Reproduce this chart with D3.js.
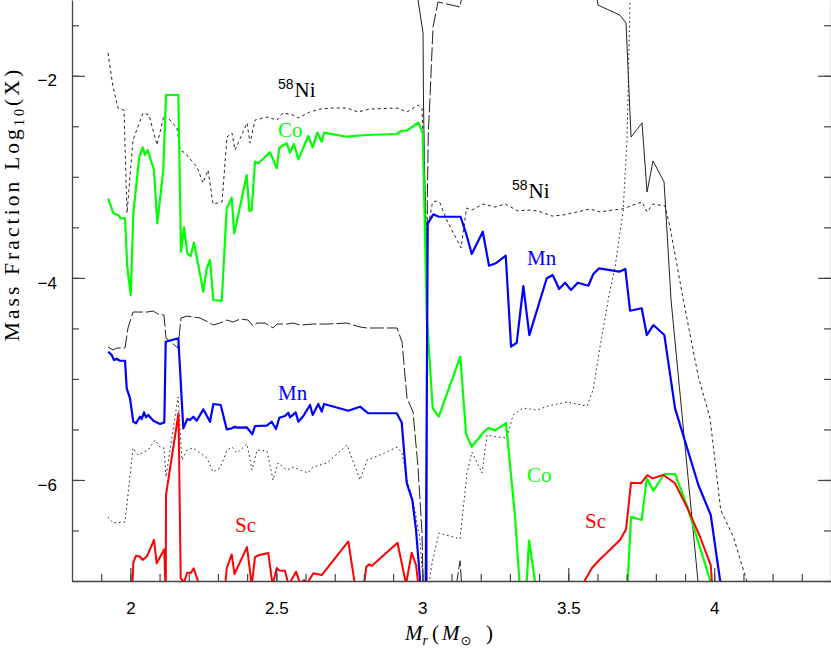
<!DOCTYPE html>
<html><head><meta charset="utf-8">
<script src="https://cdn.jsdelivr.net/npm/d3@7"></script>
<style>body{margin:0;background:#fff}svg{display:block}</style>
</head><body>
<svg id="chart" width="831" height="652"></svg>
<script>
// ---------------- data ----------------
const xDomain = [1.8, 4.4];
const yDomain = [-7, -1.25];
const xMajorTicks = [2, 2.5, 3, 3.5, 4];
const xMinorTicks = [1.9,2.0,2.1,2.2,2.3,2.4,2.5,2.6,2.7,2.8,2.9,3.0,3.1,3.2,3.3,3.4,3.5,3.6,3.7,3.8,3.9,4.0,4.1,4.2,4.3];
const yMajorTicks = [-6, -4, -2];
const yMinorTicks = [-7,-6.5,-6,-5.5,-5,-4.5,-4,-3.5,-3,-2.5,-2,-1.5];

// Co (green)
const co = [[1.924,-3.213],[1.9415,-3.361],[1.9586,-3.378],[1.9668,-3.411],[1.9816,-3.411],[1.9894,-3.889],[2.0011,-4.170],[2.010,-3.361],[2.0306,-2.801],[2.0422,-2.708],[2.050,-2.784],[2.0593,-2.735],[2.0809,-2.932],[2.0922,-3.460],[2.1128,-2.932],[2.122,-2.190],[2.1642,-2.190],[2.1734,-3.741],[2.1837,-3.500],[2.195,-3.757],[2.2066,-3.784],[2.218,-3.652],[2.2498,-4.137],[2.2614,-3.905],[2.2728,-3.823],[2.2841,-4.219],[2.3129,-4.229],[2.330,-3.312],[2.3471,-3.207],[2.356,-3.559],[2.3985,-2.982],[2.4074,-3.338],[2.4156,-3.328],[2.4269,-2.850],[2.4382,-2.866],[2.4783,-2.757],[2.5013,-2.916],[2.5102,-2.712],[2.5355,-2.668],[2.5468,-2.761],[2.5605,-2.675],[2.5753,-2.827],[2.5869,-2.751],[2.6095,-2.596],[2.6246,-2.708],[2.6403,-2.563],[2.6554,-2.652],[2.6633,-2.563],[2.7411,-2.603],[2.8096,-2.586],[2.9124,-2.576],[2.9295,-2.544],[2.9466,-2.544],[2.9864,-2.464],[3.0014,-2.569],[3.016,-4.417],[3.0357,-5.291],[3.0563,-5.374],[3.1303,-4.780],[3.1498,-5.545],[3.1694,-5.671],[3.2115,-5.523],[3.2262,-5.486],[3.2491,-5.509],[3.2868,-5.439],[3.3177,-6.364],[3.3324,-6.990],[3.336,-7.2],[3.355,-7.2],[3.3577,-7.0],[3.3656,-6.60],[3.386,-7.0],[3.389,-7.2],null,[3.701,-7.2],[3.7037,-7.0],[3.715,-6.364],[3.7517,-6.396],[3.7689,-5.984],[3.7915,-6.107],[3.8291,-5.941],[3.8658,-5.941],[3.9079,-6.265],[3.9857,-6.99],[3.9925,-7.06]];

// Mn (blue)
const mn = [[1.924,-4.731],[1.936,-4.764],[1.9439,-4.813],[1.9531,-4.800],[1.9644,-4.820],[1.9816,-4.820],[1.9874,-5.093],[1.9987,-5.192],[2.010,-5.424],[2.0193,-5.439],[2.033,-5.374],[2.0388,-5.397],[2.0467,-5.331],[2.0535,-5.380],[2.0614,-5.357],[2.0785,-5.414],[2.1015,-5.446],[2.1162,-5.430],[2.121,-4.632],[2.1642,-4.598],[2.1813,-5.489],[2.1949,-5.397],[2.2042,-5.407],[2.2156,-5.374],[2.2272,-5.414],[2.2498,-5.301],[2.2728,-5.424],[2.2841,-5.248],[2.3094,-5.258],[2.330,-5.499],[2.3471,-5.489],[2.3584,-5.473],[2.3642,-5.483],[2.3985,-5.479],[2.4177,-5.548],[2.4269,-5.466],[2.467,-5.463],[2.4841,-5.424],[2.4989,-5.496],[2.5102,-5.384],[2.5297,-5.367],[2.541,-5.334],[2.5468,-5.380],[2.5664,-5.331],[2.5753,-5.424],[2.5924,-5.367],[2.6153,-5.258],[2.6246,-5.357],[2.6438,-5.248],[2.6554,-5.324],[2.6633,-5.248],[2.7466,-5.315],[2.7866,-5.275],[2.8151,-5.340],[2.9124,-5.340],[2.9295,-5.432],[2.9466,-6.030],[2.9658,-6.199],[2.9785,-6.495],[2.9922,-6.99],[2.997,-7.19],[3.0115,-7.19],[3.0186,-3.460],[3.0378,-3.371],[3.0563,-3.395],[3.1310,-3.395],[3.1498,-3.559],[3.1694,-3.764],[3.2071,-3.543],[3.2286,-3.880],[3.2516,-3.856],[3.2858,-3.781],[3.304,-4.681],[3.3235,-4.642],[3.3461,-4.081],[3.3667,-4.566],[3.4263,-4.004],[3.4469,-3.972],[3.4684,-4.110],[3.4890,-4.048],[3.5095,-4.120],[3.5325,-4.048],[3.5688,-4.078],[3.5859,-3.962],[3.6054,-3.906],[3.6750,-3.939],[3.6955,-3.912],[3.7116,-4.325],[3.7517,-4.301],[3.7689,-4.566],[3.7915,-4.467],[3.8291,-4.566],[3.8658,-5.291],[3.9457,-6.050],[3.9880,-6.347],[4.0199,-6.99],[4.023,-7.06]];

// Sc (red)
const sc = [[2.0073,-7.02],[2.010,-6.819],[2.0193,-6.750],[2.033,-6.760],[2.0422,-6.792],[2.058,-6.750],[2.0809,-6.594],[2.0901,-6.825],[2.1162,-6.686],[2.1203,-7.09],[2.1213,-7.09],[2.122,-6.149],[2.1649,-5.340],[2.1724,-6.974],[2.1837,-7.013],[2.195,-6.918],[2.2077,-6.918],[2.2169,-6.874],[2.2361,-7.04],null,[2.3249,-7.04],[2.330,-6.874],[2.3471,-6.738],[2.3567,-6.931],[2.3995,-6.664],[2.4156,-7.04],[2.4269,-6.763],[2.4362,-6.748],[2.4725,-6.723],[2.4869,-7.04],[2.5013,-6.872],[2.5102,-6.896],[2.5297,-6.898],[2.5417,-7.04],[2.5674,-6.908],[2.5811,-7.02],[2.5958,-6.99],[2.6017,-7.04],[2.6212,-6.951],[2.6267,-6.924],[2.6554,-6.941],[2.7466,-6.609],[2.7695,-7.04],null,[2.8003,-7.04],[2.8082,-6.859],[2.8185,-6.835],[2.8267,-6.852],[2.9151,-6.621],[2.9442,-7.03],[2.9637,-6.720],[2.9785,-6.842],[2.9888,-7.09],null,[3.551,-7.09],[3.5575,-6.99],[3.5804,-6.874],[3.6064,-6.792],[3.6773,-6.594],[3.6979,-6.489],[3.715,-6.027],[3.7483,-6.033],[3.7709,-5.951],[3.788,-5.984],[3.8257,-5.951],[3.8658,-6.033],[3.9113,-6.298],[3.9514,-6.562],[3.988,-6.842],[3.9942,-7.09]];

// 58Ni (short-dashed black)
const ni58 = [[1.9233,-1.775],[1.9405,-2.111],[1.9576,-2.319],[1.9781,-2.339],[1.9884,-3.358],[2.009,-2.636],[2.0432,-2.368],[2.0638,-2.388],[2.0912,-2.685],[2.1152,-2.388],[2.1357,-2.438],[2.1597,-2.517],[2.170,-2.735],[2.1871,-2.764],[2.2282,-2.903],[2.2488,-3.061],[2.2659,-2.933],[2.283,-3.269],[2.3139,-3.249],[2.331,-2.606],[2.3481,-2.566],[2.3584,-2.735],[2.3995,-2.467],[2.4098,-2.665],[2.4269,-2.438],[2.468,-2.408],[2.5023,-2.438],[2.5229,-2.368],[2.5571,-2.388],[2.5742,-2.418],[2.6153,-2.358],[2.6496,-2.329],[2.6942,-2.319],[2.7421,-2.319],[2.7798,-2.358],[2.8209,-2.329],[2.9134,-2.319],[2.9476,-2.358],[2.9853,-2.289],[2.999,-2.319],[3.0144,-3.576],[3.035,-3.254],[3.047,-3.239],[3.0607,-3.259],[3.0837,-3.427],[3.1327,-3.704],[3.1515,-3.309],[3.1703,-3.328],[3.208,-3.269],[3.2491,-3.299],[3.2834,-3.269],[3.3279,-3.338],[3.3587,-3.328],[3.3964,-3.338],[3.4444,-3.388],[3.4821,-3.378],[3.5300,-3.348],[3.5746,-3.318],[3.6088,-3.348],[3.6533,-3.328],[3.6876,-3.318],[3.7219,-3.279],[3.7527,-3.249],[3.7699,-3.348],[3.7904,-3.269],[3.8315,-3.289],[3.8486,-3.497],[3.8942,-4.219],[3.9456,-4.978],[3.9857,-5.390],[4.0223,-6.298],[4.0655,-6.562],[4.1124,-7.01]];

// dotted black
const dotted = [[1.9233,-6.367],[1.9405,-6.426],[1.9816,-6.416],[2.009,-5.684],[2.0261,-5.753],[2.0604,-5.704],[2.0843,-5.605],[2.1015,-5.674],[2.1152,-5.684],[2.122,-5.971],[2.1631,-5.179],[2.1768,-5.803],[2.194,-5.704],[2.2145,-5.684],[2.2385,-5.733],[2.2625,-5.783],[2.283,-5.921],[2.307,-5.882],[2.331,-5.704],[2.3481,-5.674],[2.3653,-5.733],[2.3995,-5.644],[2.4166,-5.902],[2.4338,-5.704],[2.468,-5.714],[2.4886,-6.001],[2.5057,-5.832],[2.5365,-5.902],[2.5571,-5.872],[2.5811,-5.902],[2.6085,-5.931],[2.6256,-5.872],[2.6736,-5.832],[2.7421,-5.654],[2.7866,-6.001],[2.8106,-5.803],[2.8552,-5.753],[2.9134,-5.674],[2.9305,-5.733],[2.9476,-6.001],[2.9682,-6.199],[2.9922,-6.594],[3.0025,-7.01],[3.0196,-7.09],[3.0333,-6.822],[3.0573,-6.525],[3.1292,-6.584],[3.1532,-5.931],[3.1703,-5.724],[3.2046,-5.931],[3.2217,-5.555],[3.256,-5.575],[3.2902,-5.585],[3.3108,-5.357],[3.345,-5.288],[3.393,-5.308],[3.4307,-5.268],[3.4958,-5.229],[3.5643,-5.268],[3.5849,-5.110],[3.6088,-4.684],[3.6397,-4.170],[3.6602,-3.893],[3.6876,-3.348],[3.7013,-2.636],[3.7116,-1.25],[3.7185,-1.05]];

// long-dashed black
const longDash = [[1.9233,-4.684],[1.9405,-4.714],[1.9542,-4.694],[1.9816,-4.694],[1.9918,-4.496],[2.009,-4.338],[2.057,-4.338],[2.0775,-4.328],[2.0946,-4.358],[2.1152,-4.368],[2.122,-4.595],[2.1631,-4.694],[2.1734,-4.397],[2.194,-4.378],[2.2385,-4.397],[2.2728,-4.447],[2.283,-4.467],[2.307,-4.447],[2.331,-4.417],[2.3516,-4.437],[2.3755,-4.407],[2.4029,-4.417],[2.4201,-4.476],[2.4338,-4.447],[2.4612,-4.447],[2.4886,-4.496],[2.5023,-4.457],[2.5365,-4.457],[2.5571,-4.447],[2.5811,-4.467],[2.6256,-4.457],[2.6736,-4.457],[2.7421,-4.447],[2.7866,-4.486],[2.8106,-4.496],[2.9134,-4.496],[2.9305,-4.635],[2.9476,-5.189],[2.9682,-5.328],[2.9853,-5.872],[2.999,-6.525],[3.0025,-7.01],[3.0076,-7.14],[3.0144,-7.14],[3.0172,-3.229],[3.0206,-2.566],[3.0264,-2.210],[3.0367,-1.517],[3.0538,-1.270],[3.1292,-1.319],[3.1395,-1.151],null,[3.1161,-7.05],[3.1292,-6.80],[3.1350,-7.05]];

// thin solid black
const solid = [[2.9819,-1.15],[2.9853,-1.25],[3.0025,-1.577],[3.004,-2.24],[3.0076,-2.903],[3.0127,-3.556],[3.0144,-4.516],[3.0162,-7.09],null,[3.5951,-1.17],[3.602,-1.30],[3.6773,-1.40],[3.6979,-1.478],[3.715,-2.606],[3.7527,-2.467],[3.7699,-3.150],[3.7904,-2.843],[3.8281,-3.051],[3.8521,-4.219],[3.9446,-7.01]];

// labels (data coordinates of text start / baseline)
const labels = [
  {sup:"58", main:"Ni", x:2.5057, y:-2.21, color:"#000"},
  {sup:"",   main:"Co", x:2.5057, y:-2.606, color:"#00ff00"},
  {sup:"58", main:"Ni", x:3.3074, y:-3.21, color:"#000"},
  {sup:"",   main:"Mn", x:3.3588, y:-3.873, color:"#0000ff"},
  {sup:"",   main:"Mn", x:2.5057, y:-5.209, color:"#0000ff"},
  {sup:"",   main:"Sc", x:2.3584, y:-6.515, color:"#ff0000"},
  {sup:"",   main:"Co", x:3.3588, y:-6.020, color:"#00ff00"},
  {sup:"",   main:"Sc", x:3.5575, y:-6.476, color:"#ff0000"}
];

// ---------------- drawing ----------------
const L = 72, R = 831, T = 0, B = 581;
const svg = d3.select("#chart");
const x = d3.scaleLinear().domain(xDomain).range([L, R]);
const y = d3.scaleLinear().domain(yDomain).range([B, T]);

svg.append("defs").append("clipPath").attr("id","clip")
  .append("rect").attr("x",L).attr("y",T).attr("width",R-L).attr("height",B-T);

const line = d3.line().defined(d => d !== null).x(d => x(d[0])).y(d => y(d[1]));
const plot = svg.append("g").attr("clip-path","url(#clip)");

const series = [
  {data: dotted,   color:"#222", width:1,   dash:"1.6,3"},
  {data: ni58,     color:"#222", width:1,   dash:"3,3"},
  {data: longDash, color:"#222", width:1,   dash:"14,3"},
  {data: solid,    color:"#222", width:1,   dash:null},
  {data: co,       color:"#00ff00", width:2.2, dash:null},
  {data: mn,       color:"#0000ff", width:2.2, dash:null},
  {data: sc,       color:"#ff0000", width:2.0, dash:null}
];
series.forEach(s => {
  plot.append("path").datum(s.data)
    .attr("d", line).attr("fill","none")
    .attr("stroke", s.color).attr("stroke-width", s.width)
    .attr("stroke-linejoin","round")
    .attr("stroke-dasharray", s.dash);
});

// axes
const axisColor = "#444";
const tickFont = "'Liberation Sans', Arial, Helvetica, sans-serif";
function styleAxis(g){
  g.selectAll("path.domain").attr("stroke", axisColor).attr("stroke-width",1.3);
  g.selectAll(".tick line").attr("stroke", axisColor).attr("stroke-width",1.2);
  g.selectAll("text").attr("fill","#000").style("font-family", tickFont).style("font-size","17px");
}
// bottom
const gxMinor = svg.append("g").attr("transform",`translate(0,${B})`)
  .call(d3.axisBottom(x).tickValues(xMinorTicks).tickSize(-7).tickFormat("").tickSizeOuter(0));
styleAxis(gxMinor);
const gxMajor = svg.append("g").attr("transform",`translate(0,${B})`)
  .call(d3.axisBottom(x).tickValues(xMajorTicks).tickSize(-13).tickPadding(21).tickFormat(d3.format("")).tickSizeOuter(0));
styleAxis(gxMajor);
gxMajor.select("path.domain").remove();
// left
const gyMinor = svg.append("g").attr("transform",`translate(${L},0)`)
  .call(d3.axisLeft(y).tickValues(yMinorTicks).tickSize(-7).tickFormat("").tickSizeOuter(0));
styleAxis(gyMinor);
const gyMajor = svg.append("g").attr("transform",`translate(${L},0)`)
  .call(d3.axisLeft(y).tickValues(yMajorTicks).tickSize(-13).tickPadding(15).tickFormat(d3.format("")).tickSizeOuter(0));
styleAxis(gyMajor);
gyMajor.select("path.domain").remove();
gyMajor.selectAll("text").attr("dy","0.6em");
// right
const gr1 = svg.append("g").attr("transform",`translate(${R},0)`)
  .call(d3.axisRight(y).tickValues(yMinorTicks).tickSize(-7).tickFormat("").tickSizeOuter(0));
styleAxis(gr1);
const gr2 = svg.append("g").attr("transform",`translate(${R},0)`)
  .call(d3.axisRight(y).tickValues(yMajorTicks).tickSize(-13).tickFormat("").tickSizeOuter(0));
styleAxis(gr2);
gr2.select("path.domain").remove();

// series labels
const serif = "'Liberation Serif', 'Times New Roman', serif";
labels.forEach(l => {
  const t = svg.append("text").attr("x", x(l.x)).attr("y", y(l.y))
    .attr("fill", l.color).style("font-family", serif).style("font-size","21px");
  if (l.sup) {
    t.append("tspan").text(l.sup).style("font-family", tickFont).style("font-size","14px").attr("dy","-8");
    t.append("tspan").text(l.main).attr("dy","8").attr("dx","1");
  } else {
    t.append("tspan").text(l.main);
  }
});

// y-axis title
const yt = svg.append("text")
  .attr("transform","translate(18.5,204) rotate(-90)")
  .attr("text-anchor","middle")
  .style("font-family", serif).style("font-size","21.5px")
  .style("letter-spacing","3.1px").attr("fill","#000");
yt.append("tspan").text("Mass Fraction Log");
yt.append("tspan").text("10").style("font-size","14px").attr("dy","5");
yt.append("tspan").text("(X)").attr("dy","-5");

// x-axis title
const xt = svg.append("text").attr("x",405).attr("y",640)
  .style("font-family", serif).style("font-size","21px").attr("fill","#000");
xt.append("tspan").text("M").style("font-style","italic");
xt.append("tspan").text("r").style("font-style","italic").style("font-size","14px").attr("dy","5");
xt.append("tspan").text("(").attr("x",432).attr("dy","-5");
xt.append("tspan").text("M").style("font-style","italic").attr("dx","3");
xt.append("tspan").text("\u2299").style("font-family","'DejaVu Sans', sans-serif").style("font-size","13px").attr("dy","5").attr("dx","1");
xt.append("tspan").text(")").attr("dy","-5").attr("x",486);
</script>
</body></html>
